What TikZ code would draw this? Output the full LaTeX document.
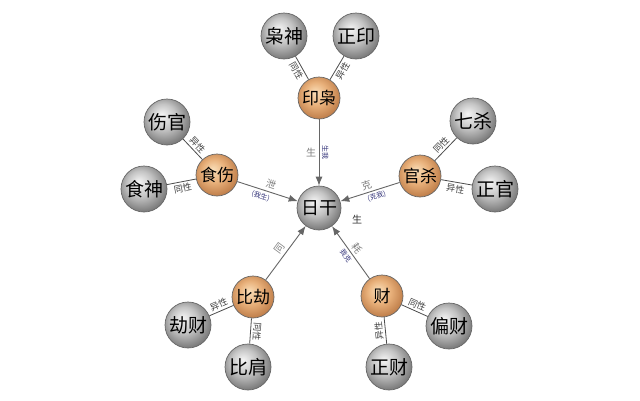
\documentclass[tikz,border=0pt]{standalone}
\usepackage{fontspec}
\setmainfont{Noto Sans CJK SC}
\usetikzlibrary{arrows.meta}
\definecolor{orangelight}{RGB}{250,222,184}
\definecolor{orangemid}{RGB}{232,176,122}
\definecolor{orangedark}{RGB}{188,122,70}
\definecolor{graylight}{RGB}{245,245,245}
\definecolor{graymid}{RGB}{196,196,196}
\definecolor{graydark}{RGB}{118,118,118}
\definecolor{labelblue}{RGB}{52,52,122}
\pgfdeclareradialshading{grayball}{\pgfpoint{-6bp}{8bp}}{color(0bp)=(graylight);color(14bp)=(graymid);color(29bp)=(graydark);color(50bp)=(graydark)}
\pgfdeclareradialshading{orangeball}{\pgfpoint{-5bp}{7bp}}{color(0bp)=(orangelight);color(14bp)=(orangemid);color(29bp)=(orangedark);color(50bp)=(orangedark)}
\tikzset{
	shen/.style={circle,draw=black!60,line width=0.7pt,minimum size=46pt,inner sep=0pt,
		shading=grayball,font=\fontsize{19}{19}\selectfont},
	zu/.style={shen,minimum size=42pt,shading=orangeball,font=\fontsize{17}{17}\selectfont},
	ri/.style={shen,minimum size=44pt,font=\fontsize{18}{18}\selectfont},
	link/.style={draw=black!70,line width=0.8pt},
	flow/.style={draw=black!60,line width=0.9pt,-{Latex[length=9pt,width=7pt]}},
	xing/.style={font=\fontsize{9}{9}\selectfont,text=black!75,sloped,inner sep=2pt},
	guan/.style={font=\fontsize{10}{10}\selectfont,text=black!50,inner sep=2.5pt},
	shuo/.style={font=\fontsize{7}{7}\selectfont,text=labelblue,inner sep=2.5pt}
}
\begin{document}
\begin{tikzpicture}[x=1pt,y=-1pt]
\useasboundingbox[fill=white] (0,0) rectangle (640,400);

\node[ri] (rigan) at (319,208) {日干};

\node[zu] (yinxiao) at (319,98) {印枭};
\node[zu] (shishang) at (217,175) {食伤};
\node[zu] (guansha) at (420,176) {官杀};
\node[zu] (bijie) at (253,297) {比劫};
\node[zu] (cai) at (382,296) {财};

\node[shen] (xiaoshen) at (284,36) {枭神};
\node[shen] (zhengyin) at (356,36) {正印};
\node[shen] (shangguan) at (167,122) {伤官};
\node[shen] (shishen) at (144,189) {食神};
\node[shen] (qisha) at (473,121) {七杀};
\node[shen] (zhengguan) at (495,189) {正官};
\node[shen] (jiecai) at (188,325) {劫财};
\node[shen] (bijian) at (248,367) {比肩};
\node[shen] (piancai) at (449,326) {偏财};
\node[shen] (zhengcai) at (389,367) {正财};

\draw[link] (xiaoshen) -- (yinxiao) node[xing,midway,below]{同性};
\draw[link] (zhengyin) -- (yinxiao) node[xing,midway,below]{异性};
\draw[link] (shangguan) -- (shishang) node[xing,midway,above]{异性};
\draw[link] (shishen) -- (shishang) node[xing,midway,below]{同性};
\draw[link] (qisha) -- (guansha) node[xing,midway,above]{同性};
\draw[link] (zhengguan) -- (guansha) node[xing,midway,below]{异性};
\draw[link] (jiecai) -- (bijie) node[xing,midway,above]{异性};
\draw[link,allow upside down] (bijie) -- (bijian) node[xing,midway,above]{同性};
\draw[link] (cai) -- (piancai) node[xing,midway,above]{同性};
\draw[link,allow upside down] (zhengcai) -- (cai) node[xing,midway,above]{异性};

\draw[flow,allow upside down] (yinxiao) -- (rigan)
	node[guan,midway,left]{生}
	node[shuo,midway,above,sloped]{生我};
\draw[flow] (shishang) -- (rigan)
	node[guan,pos=0.52,above,sloped]{泄}
	node[shuo,pos=0.42,below,sloped]{(我生)};
\draw[flow] (guansha) -- (rigan)
	node[guan,pos=0.52,above,sloped]{克}
	node[shuo,pos=0.42,below,sloped]{(克我)};
\draw[flow] (bijie) -- (rigan)
	node[guan,midway,above,sloped]{同};
\draw[flow] (cai) -- (rigan)
	node[guan,midway,above,sloped]{耗}
	node[shuo,midway,below,sloped]{我克};

\node[guan,text=black!80] (sheng) at (357,220) {生};

\end{tikzpicture}
\end{document}
